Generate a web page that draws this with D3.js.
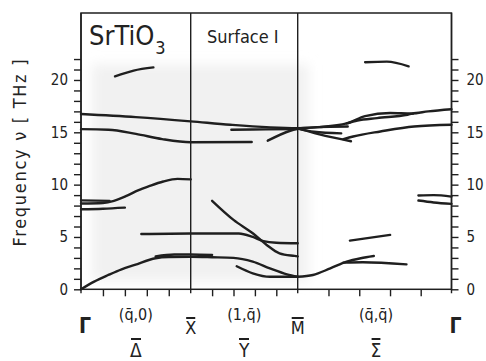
<!DOCTYPE html>
<html>
<head>
<meta charset="utf-8">
<script src="https://cdn.jsdelivr.net/npm/d3@7"></script>
<style>
  body { margin: 0; background: #fff; }
  svg { display: block; }
  text { font-family: "DejaVu Sans Condensed", "DejaVu Sans", sans-serif; fill: #222; }
</style>
</head>
<body>
<svg id="chart" width="486" height="361"></svg>
<script>
// path coordinate: Γ=0, X=1, M=2, Γ=2+√2
const points = [
  { name: 'Γ', k: 0 },
  { name: 'X', k: 1 },
  { name: 'M', k: 2 },
  { name: 'Γ', k: 2 + Math.SQRT2 }
];
const directions = [
  { q: '(q̄,0)', name: 'Δ', k: 0.5 },
  { q: '(1,q̄)', name: 'Y', k: 1.5 },
  { q: '(q̄,q̄)', name: 'Σ', k: 2.72 }
];
const yTicks = d3.range(0, 23);
const yLabels = [0, 5, 10, 15, 20];
const bottomTicks = [0.2, 0.4, 0.6, 0.8, 1.2, 1.4, 1.6, 1.8, 2.283, 2.566, 2.849, 3.131];

// projected bulk band (faint stipple)
const bulkBand = [0.1, 2.1, 0.8, 21.5];

// dispersion branches [k, ν THz]
const branches = [
  [[0,16.75],[0.5,16.45],[1,16.05],[1.37,15.72],[2,15.4],[2.2,15.5],[2.45,15.85],[2.62,16.55],[2.85,16.85],[3.05,16.8],[3.2,17.0],[3.414,17.2]],
  [[2.45,15.85],[2.55,16.13],[2.73,16.36],[3.01,16.68],[3.06,16.78]],
  [[0,15.3],[0.25,15.25],[0.5,14.85],[0.74,14.35],[1,14.05],[1.57,14.08]],
  [[1.38,15.25],[1.7,15.28],[2,15.32]],
  [[1.72,14.2],[1.93,15.15],[2,15.35]],
  [[2,15.38],[2.18,15.5],[2.46,15.55]],
  [[2,15.35],[2.15,15.05],[2.4,14.9]],
  [[2,15.4],[2.2,14.8],[2.49,14.15]],
  [[2.42,14.35],[2.51,14.6],[2.76,15.08],[3.07,15.56],[3.414,15.72]],
  [[0.31,20.35],[0.48,20.9],[0.66,21.2]],
  [[2.62,21.7],[2.82,21.75],[3.02,21.3]],
  [[0,8.2],[0.2,8.25],[0.3,8.45],[0.42,8.95],[0.52,9.45],[0.62,9.85],[0.75,10.3],[0.88,10.55],[1,10.5]],
  [[0,8.5],[0.26,8.45]],
  [[0,7.65],[0.2,7.7],[0.4,7.8]],
  [[0.55,5.28],[1,5.33],[1.45,5.33],[1.58,5.0],[1.68,4.6],[1.8,4.45],[2,4.4]],
  [[0,0],[0.12,0.73],[0.25,1.37],[0.37,1.91],[0.49,2.33],[0.68,2.97],[0.8,3.08],[1,3.1],[1.2,3.06],[1.4,3.0],[1.58,2.64],[1.74,2.0],[1.9,1.43],[2,1.2]],
  [[0.68,3.15],[0.85,3.32],[1,3.33],[1.2,3.28]],
  [[1.43,2.2],[1.58,1.53],[1.74,1.2],[2,1.2]],
  [[1.2,8.45],[1.4,6.63],[1.58,5.36],[1.71,4.24],[1.83,3.44],[1.97,3.19],[2,3.15]],
  [[2,1.2],[2.14,1.37],[2.3,2.0],[2.45,2.64],[2.58,2.97],[2.7,3.18]],
  [[2.42,2.55],[2.6,2.58],[3.0,2.38]],
  [[2.48,4.65],[2.85,5.2]],
  [[3.11,8.96],[3.25,9.0],[3.414,8.86]],
  [[3.11,8.48],[3.25,8.3],[3.414,8.16]]
];

const svg = d3.select('#chart');
svg.append('rect').attr('width', 486).attr('height', 361).attr('fill', '#fff');

const x = d3.scaleLinear()
  .domain(points.map(p => p.k))
  .range([81, 190.7, 297.7, 451.5]);
const y = d3.scaleLinear().domain([0, 26.4]).range([289.3, 13]);

const ink = '#1f1f1f';

// bulk band, soft edged
svg.append('defs').append('filter').attr('id', 'soft')
  .attr('x', '-20%').attr('y', '-20%').attr('width', '140%').attr('height', '140%')
  .append('feGaussianBlur').attr('stdDeviation', 6);
svg.append('rect')
  .attr('x', x(bulkBand[0])).attr('width', x(bulkBand[1]) - x(bulkBand[0]))
  .attr('y', y(bulkBand[3])).attr('height', y(bulkBand[2]) - y(bulkBand[3]))
  .attr('fill', '#f1f1f1').attr('filter', 'url(#soft)');

// axes
const left = svg.append('g').attr('transform', `translate(${x(0)},0)`)
  .call(d3.axisLeft(y).tickValues(yTicks).tickSize(7).tickPadding(6)
    .tickFormat(d => yLabels.includes(d) ? d : ''));
const right = svg.append('g').attr('transform', `translate(${x(2 + Math.SQRT2)},0)`)
  .call(d3.axisRight(y).tickValues(yTicks).tickSize(7).tickPadding(8)
    .tickFormat(d => yLabels.includes(d) ? d : ''));
const bottom = svg.append('g').attr('transform', `translate(0,${y(0)})`)
  .call(d3.axisBottom(x).tickValues(bottomTicks).tickSize(7).tickFormat(''));

[left, right, bottom].forEach(g => {
  g.select('.domain').remove();
  g.selectAll('line').attr('stroke', ink).attr('stroke-width', 1.4);
  g.selectAll('text').attr('font-size', 15).attr('fill', ink)
    .style('font-family', '"DejaVu Sans Condensed", sans-serif');
});

// frame
svg.append('rect')
  .attr('x', x(0)).attr('y', y(26.4))
  .attr('width', x(2 + Math.SQRT2) - x(0)).attr('height', y(0) - y(26.4))
  .attr('fill', 'none').attr('stroke', ink).attr('stroke-width', 1.5);

// symmetry lines
svg.selectAll('.sym').data(points).join('line')
  .attr('class', 'sym')
  .attr('x1', d => x(d.k)).attr('x2', d => x(d.k))
  .attr('y1', y(26.4)).attr('y2', y(0) + 4)
  .attr('stroke', ink).attr('stroke-width', 1.4);

// branches
const line = d3.line().x(d => x(d[0])).y(d => y(d[1])).curve(d3.curveMonotoneX);
svg.append('g').selectAll('path').data(branches).join('path')
  .attr('d', line)
  .attr('fill', 'none').attr('stroke', ink)
  .attr('stroke-width', 2.4).attr('stroke-linecap', 'round');

// titles
const title = svg.append('text').attr('x', 89).attr('y', 45).attr('font-size', 27).text('SrTiO');
title.append('tspan').attr('font-size', 18).attr('dy', 9).attr('dx', 1).text('3');
svg.append('text').attr('x', 207).attr('y', 43).attr('font-size', 18).text('Surface I');

svg.append('text')
  .attr('transform', 'translate(26,153) rotate(-90)')
  .attr('text-anchor', 'middle').attr('font-size', 18)
  .attr('textLength', 187).attr('lengthAdjust', 'spacing')
  .text('Frequency ν [ THz ]');

// point labels
const bar = (t, dy) => {
  const b = t.node().getBBox();
  svg.append('line')
    .attr('x1', b.x + 1).attr('x2', b.x + b.width - 1)
    .attr('y1', b.y + dy).attr('y2', b.y + dy)
    .attr('stroke', ink).attr('stroke-width', 2);
};
points.forEach(p => {
  const t = svg.append('text')
    .attr('x', x(p.k) + (p.name === 'Γ' ? 4 : 0))
    .attr('y', p.name === 'Γ' ? 333 : 334)
    .attr('text-anchor', 'middle')
    .attr('font-size', p.name === 'Γ' ? 21 : 18)
    .attr('font-weight', p.name === 'Γ' ? 'bold' : 'normal')
    .text(p.name);
  if (p.name !== 'Γ') bar(t, 1);
});
directions.forEach(d => {
  svg.append('text').attr('x', x(d.k)).attr('y', 320)
    .attr('text-anchor', 'middle').attr('font-size', 16).text(d.q);
  const t = svg.append('text').attr('x', x(d.k)).attr('y', 357)
    .attr('text-anchor', 'middle').attr('font-size', 19).text(d.name);
  bar(t, 0);
});
</script>
</body>
</html>
